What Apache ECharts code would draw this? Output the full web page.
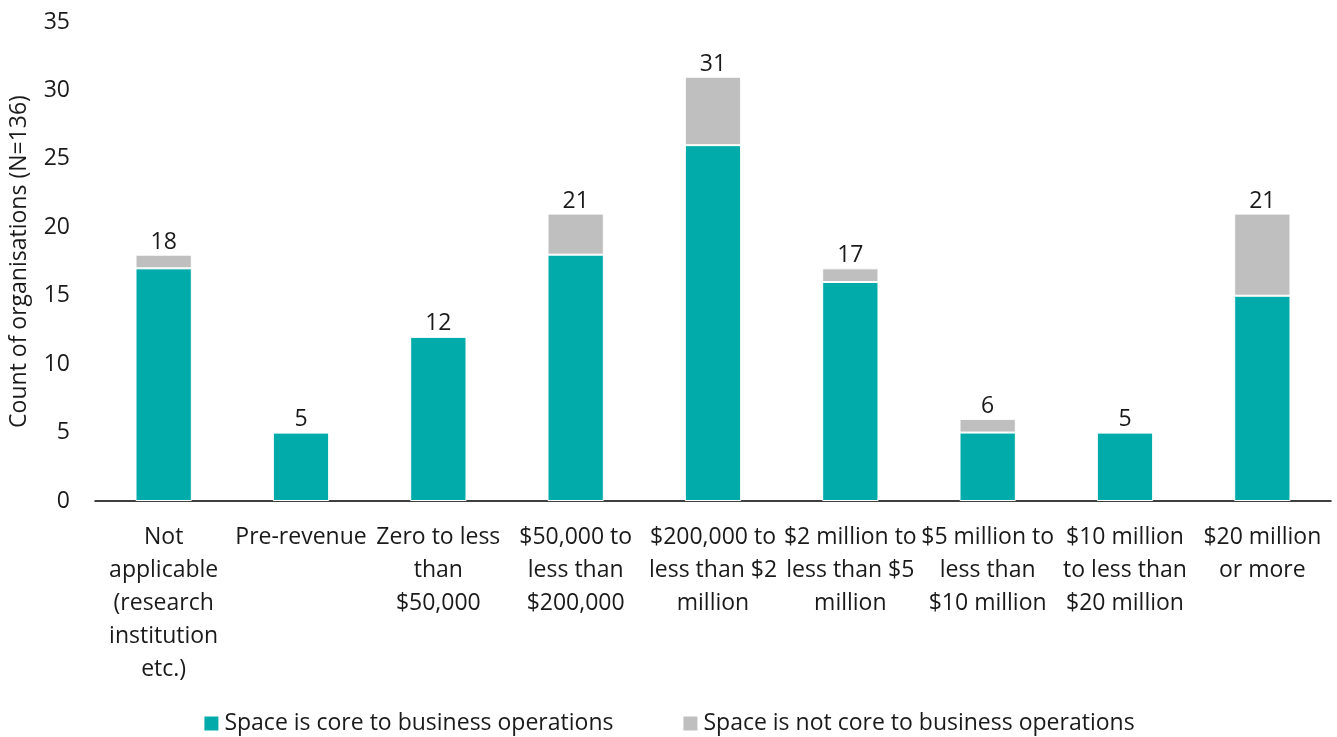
<!DOCTYPE html>
<html><head><meta charset="utf-8">
<script src="https://cdn.jsdelivr.net/npm/echarts@6/dist/echarts.min.js"></script>
<style>html,body{margin:0;padding:0;background:#fff}#c{width:1337px;height:737px}</style>
</head><body><div id="c"></div>
<script>
const categories = ['Not\napplicable\n(research\ninstitution\netc.)','Pre-revenue','Zero to less\nthan\n$50,000','$50,000 to\nless than\n$200,000','$200,000 to\nless than $2\nmillion','$2 million to\nless than $5\nmillion','$5 million to\nless than\n$10 million','$10 million\nto less than\n$20 million','$20 million\nor more'];
const coreValues = [17,5,12,18,26,16,5,5,15];
const notCoreValues = [1,0,0,3,5,1,1,0,6];
const totals = coreValues.map((v,i)=>v+notCoreValues[i]);
const yTicks = [0,5,10,15,20,25,30,35];
const font = '"Open Sans", "Noto Sans", sans-serif';
const chart = echarts.init(document.getElementById('c'));
chart.setOption({
  animation:false,
  textStyle:{fontFamily:font},
  grid:{left:95,right:6,top:22,bottom:236,containLabel:false},
  legend:{bottom:-3,left:'center',itemWidth:16,itemHeight:16,itemGap:68,icon:'rect',
    textStyle:{fontSize:23,color:'#1a1a1a',fontFamily:font},
    data:['Space is core to business operations','Space is not core to business operations']},
  xAxis:{type:'category',data:categories,
    axisLine:{lineStyle:{color:'#000',width:1.5}},axisTick:{show:false},
    axisLabel:{interval:0,fontSize:23,color:'#1a1a1a',lineHeight:33,margin:20,fontFamily:font}},
  yAxis:{type:'value',min:0,max:35,interval:5,
    name:'Count of organisations (N=136)',nameLocation:'middle',nameGap:64,
    nameTextStyle:{fontSize:23,color:'#1a1a1a',fontFamily:font},
    axisLine:{show:false},axisTick:{show:false},splitLine:{show:false},
    axisLabel:{fontSize:23,color:'#1a1a1a',margin:25,fontFamily:font,
      formatter:v=>yTicks.includes(v)?String(v):''}},
  series:[
    {name:'Space is core to business operations',type:'bar',stack:'a',data:coreValues,barWidth:'41%',
      itemStyle:{color:'#00ABAA',borderColor:'#fff',borderWidth:1}},
    {name:'Space is not core to business operations',type:'bar',stack:'a',
      data:notCoreValues.map((v,i)=>({value:v,label:{formatter:String(totals[i])}})),
      itemStyle:{color:'#BFBFBF',borderColor:'#fff',borderWidth:1},
      label:{show:true,position:'top',fontSize:23,color:'#1a1a1a',distance:1,fontFamily:font}}
  ]
});
</script></body></html>
